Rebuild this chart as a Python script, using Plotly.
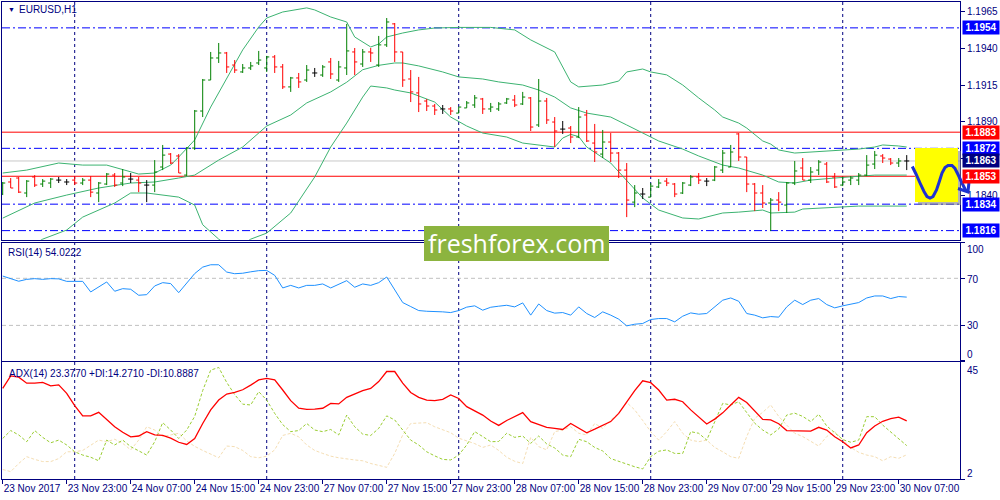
import plotly.graph_objects as go
import pandas as pd

# ---------------- data ----------------
TIMES = pd.date_range("2017-11-23 15:00", "2017-11-30 08:00", freq="h")
TIMES = TIMES[TIMES.dayofweek < 5]
BARS = list(range(len(TIMES)))

OPEN = [1.18409,1.18491,1.18518,1.18416,1.18525,1.18477,1.18484,1.18504,1.18491,1.18504,
        1.18484,1.18504,1.18416,1.18477,1.18538,1.18484,1.18511,1.18504,1.18470,1.18470,
        1.18593,1.18681,1.18668,1.18538,1.18722,1.18974,1.19185,1.19335,1.19369,1.19287,
        1.19240,1.19267,1.19301,1.19267,1.19342,1.19274,1.19138,1.19199,1.19185,1.19233,
        1.19219,1.19308,1.19185,1.19267,1.19376,1.19294,1.19376,1.19287,1.19424,1.19567,
        1.19376,1.19192,1.19097,1.19042,1.19008,1.18988,1.18988,1.18960,1.18995,1.19015,
        1.19056,1.18988,1.18988,1.19029,1.19049,1.19022,1.19063,1.18879,1.19042,1.18899,
        1.18851,1.18858,1.18797,1.18947,1.18756,1.18681,1.18763,1.18688,1.18572,1.18354,
        1.18409,1.18388,1.18457,1.18497,1.18477,1.18416,1.18470,1.18525,1.18497,1.18504,
        1.18572,1.18593,1.18818,1.18661,1.18477,1.18416,1.18348,1.18368,1.18334,1.18484,
        1.18586,1.18504,1.18572,1.18613,1.18525,1.18470,1.18504,1.18504,1.18538,1.18613,
        1.18668,1.18647,1.18620,1.18634]
HIGH = [1.18491,1.18518,1.18525,1.18504,1.18538,1.18511,1.18518,1.18525,1.18511,1.18525,
        1.18518,1.18531,1.18491,1.18552,1.18552,1.18579,1.18552,1.18525,1.18504,1.18640,
        1.18743,1.18688,1.18681,1.18729,1.18981,1.19192,1.19376,1.19437,1.19376,1.19321,
        1.19294,1.19308,1.19383,1.19349,1.19355,1.19294,1.19206,1.19233,1.19287,1.19267,
        1.19287,1.19335,1.19315,1.19567,1.19403,1.19396,1.19403,1.19485,1.19607,1.19573,
        1.19376,1.19253,1.19206,1.19056,1.19022,1.19015,1.19001,1.19001,1.19042,1.19083,
        1.19063,1.19029,1.19035,1.19063,1.19083,1.19104,1.19069,1.19192,1.19063,1.18933,
        1.18906,1.18872,1.19001,1.18981,1.18886,1.18845,1.18824,1.18695,1.18620,1.18470,
        1.18450,1.18484,1.18511,1.18518,1.18484,1.18491,1.18538,1.18552,1.18518,1.18600,
        1.18709,1.18743,1.18824,1.18661,1.18484,1.18470,1.18382,1.18422,1.18491,1.18634,
        1.18654,1.18593,1.18640,1.18627,1.18552,1.18525,1.18531,1.18552,1.18674,1.18702,
        1.18681,1.18654,1.18654,1.18674]
LOW = [1.18402,1.18450,1.18416,1.18388,1.18457,1.18457,1.18450,1.18484,1.18470,1.18470,
       1.18470,1.18388,1.18354,1.18470,1.18457,1.18463,1.18484,1.18422,1.18354,1.18422,
       1.18572,1.18613,1.18552,1.18531,1.18709,1.18933,1.19185,1.19301,1.19233,1.19233,
       1.19233,1.19253,1.19287,1.19240,1.19233,1.19124,1.19104,1.19131,1.19172,1.19206,
       1.19206,1.19192,1.19172,1.19219,1.19219,1.19274,1.19308,1.19274,1.19410,1.19308,
       1.19138,1.19035,1.18967,1.18974,1.18947,1.18954,1.18947,1.18960,1.18995,1.18995,
       1.18954,1.18967,1.18974,1.19022,1.19001,1.19015,1.18838,1.18865,1.18886,1.18729,
       1.18818,1.18756,1.18790,1.18763,1.18627,1.18654,1.18627,1.18518,1.18252,1.18320,
       1.18375,1.18388,1.18450,1.18463,1.18388,1.18409,1.18463,1.18477,1.18463,1.18497,
       1.18552,1.18593,1.18634,1.18422,1.18293,1.18314,1.18157,1.18293,1.18280,1.18470,
       1.18504,1.18484,1.18538,1.18484,1.18450,1.18463,1.18470,1.18470,1.18531,1.18579,
       1.18620,1.18606,1.18593,1.18572]
CLOSE = [1.18484,1.18450,1.18422,1.18497,1.18470,1.18497,1.18511,1.18504,1.18491,1.18484,
         1.18504,1.18422,1.18484,1.18545,1.18470,1.18525,1.18511,1.18484,1.18470,1.18559,
         1.18674,1.18620,1.18552,1.18722,1.18974,1.19185,1.19335,1.19369,1.19274,1.19253,
         1.19267,1.19281,1.19321,1.19342,1.19274,1.19138,1.19199,1.19172,1.19253,1.19233,
         1.19274,1.19226,1.19274,1.19383,1.19308,1.19376,1.19369,1.19424,1.19580,1.19376,
         1.19185,1.19104,1.19022,1.19008,1.18981,1.18988,1.18974,1.19001,1.19029,1.19063,
         1.18988,1.19001,1.19022,1.19056,1.19015,1.19069,1.18865,1.19042,1.18913,1.18838,
         1.18851,1.18797,1.18933,1.18770,1.18695,1.18763,1.18688,1.18572,1.18368,1.18416,
         1.18409,1.18463,1.18484,1.18484,1.18409,1.18484,1.18525,1.18504,1.18497,1.18593,
         1.18688,1.18695,1.18661,1.18477,1.18416,1.18348,1.18368,1.18354,1.18484,1.18566,
         1.18504,1.18559,1.18627,1.18491,1.18457,1.18491,1.18518,1.18538,1.18606,1.18674,
         1.18654,1.18620,1.18634,1.18634]

# Bollinger bands (20, 2)
BB_UP_X = [0,3,7,10,13,16,17,19,21,22,24,26,28,30,32,33,35,38,39,41,43,44,46,47,48,50,52,54,57,61,
           64,66,69,70,71,72,75,77,78,80,81,83,85,87,89,90,92,93,94,95,96,97,99,101,105,107,109,110,112,113]
BB_UP = [1.18552,1.18572,1.18620,1.18606,1.18606,1.18559,1.18545,1.18552,1.18606,1.18661,
         1.18777,1.19001,1.19199,1.19390,1.19546,1.19607,1.19648,1.19676,1.19662,1.19614,
         1.19580,1.19478,1.19410,1.19430,1.19478,1.19505,1.19526,1.19539,1.19543,1.19543,
         1.19526,1.19458,1.19376,1.19274,1.19172,1.19138,1.19151,1.19178,1.19240,1.19260,
         1.19240,1.19220,1.19151,1.19063,1.18981,1.18933,1.18892,1.18858,1.18811,1.18770,
         1.18749,1.18709,1.18688,1.18695,1.18709,1.18715,1.18729,1.18743,1.18736,1.18729]
BB_MID_X = [0,4,8,12,16,19,22,24,27,30,33,36,38,41,43,45,47,49,50,52,55,57,60,62,65,
            67,69,71,73,76,78,80,82,85,87,90,92,95,97,99,101,104,106,109,113]
BB_MID = [1.18245,1.18348,1.18402,1.18450,1.18484,1.18491,1.18518,1.18538,1.18640,1.18729,
          1.18872,1.18947,1.19029,1.19104,1.19170,1.19255,1.19285,1.19301,1.19301,1.19281,
          1.19240,1.19206,1.19192,1.19172,1.19151,1.19117,1.19069,1.18995,1.18960,1.18933,
          1.18879,1.18824,1.18770,1.18715,1.18668,1.18606,1.18586,1.18538,1.18491,1.18484,
          1.18504,1.18518,1.18525,1.18538,1.18538]
BB_LO_X = [0,5,8,10,14,16,18,22,24,25,27,29,31,33,36,39,41,43,45,46,48,49,51,54,56,58,60,63,65,67,
           69,70,71,72,73,76,78,80,82,85,87,90,92,95,96,99,100,103,105,107,113]
BB_LO = [1.17939,1.18102,1.18164,1.18252,1.18348,1.18416,1.18416,1.18388,1.18334,1.18200,
         1.18102,1.18030,1.18102,1.18143,1.18280,1.18525,1.18729,1.18892,1.19069,1.19144,
         1.19131,1.19117,1.19097,1.19035,1.18933,1.18872,1.18824,1.18797,1.18756,1.18743,
         1.18729,1.18790,1.18815,1.18800,1.18729,1.18620,1.18504,1.18382,1.18300,1.18246,
         1.18239,1.18280,1.18286,1.18300,1.18280,1.18286,1.18307,1.18314,1.18320,1.18327,1.18327]

RSI = [71.9,69.7,67.5,69.1,69.7,69.1,69.7,69.5,67.4,67.4,
       67.4,58.4,62.6,66.9,59.0,61.2,60.7,55.6,56.1,63.5,
       66.3,65.5,57.8,65.5,74.0,79.5,81.5,81.5,75.3,73.9,
       74.3,75.5,76.5,76.7,72.5,61.8,64.0,61.8,64.0,64.0,
       65.2,61.8,64.6,68.0,62.4,65.2,64.0,66.3,71.1,59.8,
       49.4,46.0,42.6,42.0,42.0,41.5,40.9,42.6,45.5,46.6,
       42.9,45.4,46.3,47.1,45.7,49.1,38.7,48.2,42.6,40.4,
       40.9,38.7,45.7,40.1,36.7,41.5,38.7,35.3,29.6,31.0,
       31.6,35.0,35.8,35.8,33.0,37.8,40.6,39.5,40.1,45.7,
       51.4,53.3,50.5,40.1,38.7,36.4,37.5,37.0,45.7,51.4,
       47.7,51.4,52.8,47.7,44.9,46.6,47.7,49.4,53.3,55.0,
       55.0,52.8,54.5,54.0222]
RSI_LEVELS = [70, 30]

ADX = [35.3,39.9,39.4,37.2,37.2,37.5,36.2,36.6,33.5,29.0,
       25.2,25.2,26.5,23.7,21.2,19.2,17.5,17.8,19.4,18.2,
       18.0,17.0,15.5,14.7,16.9,22.4,27.4,31.0,33.2,33.8,
       34.8,36.5,38.4,39.0,38.4,34.7,30.8,28.0,27.6,27.7,
       28.0,29.8,29.6,32.0,33.2,34.5,35.3,37.8,41.5,41.5,
       37.2,33.8,32.0,31.0,30.8,31.3,32.9,31.6,28.6,27.2,
       25.5,23.3,21.7,23.5,25.0,26.4,23.1,22.0,21.0,20.6,
       20.2,22.4,20.6,19.0,20.3,21.8,23.1,26.1,30.4,34.5,
       38.1,37.4,34.7,31.0,31.3,30.4,27.4,24.9,22.2,24.0,
       26.3,29.2,32.0,30.1,26.8,23.9,23.7,22.3,19.8,19.8,
       19.8,19.6,21.0,20.0,17.5,15.7,13.4,14.5,19.0,21.5,
       23.2,24.2,24.7,23.377]
PDI = [16.9,19.8,18.2,15.7,19.8,17.3,15.3,16.3,14.5,12.0,
       10.8,10.0,8.7,16.3,14.5,16.3,13.9,12.3,10.8,15.7,
       22.7,20.0,16.9,20.0,25.0,34.5,42.0,43.0,37.5,33.0,
       29.5,29.2,34.1,31.0,26.1,22.0,19.4,19.8,22.4,20.0,
       19.4,20.2,18.2,25.5,21.2,18.5,18.0,20.6,25.2,23.7,
       20.0,16.3,14.5,12.0,10.5,9.2,9.0,10.8,14.5,19.4,
       17.6,15.7,15.8,18.8,17.3,17.8,15.1,17.8,14.9,13.4,
       10.8,10.2,16.6,15.7,13.6,12.3,9.5,8.6,7.5,6.5,
       5.7,10.2,12.2,12.7,11.4,11.4,19.4,18.8,16.3,23.0,
       29.8,29.2,30.4,26.4,22.5,20.0,18.2,20.4,25.5,26.2,
       25.0,23.1,25.8,21.5,19.0,16.5,15.5,16.3,24.9,24.9,
       21.8,19.4,16.8,14.271]
MDI = [5.5,4.7,7.7,10.2,9.2,8.4,8.4,9.5,12.0,12.0,
       12.5,14.5,16.3,15.7,16.6,15.1,12.7,16.3,21.2,20.0,
       17.6,18.2,18.8,16.0,14.0,12.5,11.0,9.8,14.1,13.9,
       12.5,10.2,9.8,10.4,12.7,18.0,18.8,17.5,14.5,12.5,
       11.4,10.4,9.8,9.3,9.0,8.7,7.7,7.0,6.3,11.4,
       18.2,22.4,22.6,22.7,21.2,20.2,19.0,17.0,16.0,15.0,
       13.6,14.5,12.5,10.0,8.5,7.7,17.3,13.9,12.7,19.4,
       20.0,21.2,18.8,18.2,22.4,20.6,23.7,26.1,30.1,27.4,
       23.5,19.4,16.3,19.4,23.1,18.8,16.3,15.7,16.3,13.6,
       12.0,10.2,9.6,17.6,24.3,26.5,29.2,25.0,21.8,18.8,
       17.6,15.7,14.1,17.6,19.4,16.5,13.6,11.8,10.8,10.2,
       8.7,10.2,9.6,10.8887]

LEVELS = [1.1954, 1.1883, 1.1872, 1.1834, 1.1816]
LEVEL_KIND = ["blue", "red", "blue", "blue", "blue"]
RED_LEVEL_2 = 1.1853
PRICE_TICKS = [1.1840, 1.1865, 1.1890, 1.1915, 1.1940, 1.1965]

# ---------------- styling helpers ----------------
FONT = "Liberation Sans, Arial, sans-serif"
NAVY = "#000080"
BLUE = "#0000FF"
RED = "#FF0000"
GREEN_BAR = "#008000"
BAND = "#3CB371"


def px(x):
    return (x - 2) / 958.0


def py(y):
    return 1 - (y - 2) / 477.0


fig = go.Figure()


def bar_segments(idx):
    xs, ys = [], []
    for i in idx:
        xs += [i, i, None, i - 0.32, i, None, i, i + 0.32, None]
        ys += [LOW[i], HIGH[i], None, OPEN[i], OPEN[i], None, CLOSE[i], CLOSE[i], None]
    return xs, ys


groups = [
    ([i for i in BARS if CLOSE[i] > OPEN[i]], GREEN_BAR),
    ([i for i in BARS if CLOSE[i] < OPEN[i]], RED),
    ([i for i in BARS if CLOSE[i] == OPEN[i]], "#000000"),
]

for bx, by in [(BB_UP_X, BB_UP), (BB_MID_X, BB_MID), (BB_LO_X, BB_LO)]:
    fig.add_trace(go.Scatter(x=bx, y=by, mode="lines", line=dict(color=BAND, width=1),
                             xaxis="x", yaxis="y", hoverinfo="skip", showlegend=False))

for idx, col in groups:
    xs, ys = bar_segments(idx)
    fig.add_trace(go.Scatter(x=xs, y=ys, mode="lines", line=dict(color=col, width=1),
                             xaxis="x", yaxis="y", hoverinfo="skip", showlegend=False))

fig.add_trace(go.Scatter(x=BARS, y=RSI, mode="lines", line=dict(color="#1E90FF", width=1),
                         xaxis="x2", yaxis="y2", hoverinfo="skip", showlegend=False))

fig.add_trace(go.Scatter(x=BARS, y=MDI, mode="lines", line=dict(color="#F5DEB3", width=1, dash="3px,2px"),
                         xaxis="x3", yaxis="y3", hoverinfo="skip", showlegend=False))
fig.add_trace(go.Scatter(x=BARS, y=PDI, mode="lines", line=dict(color="#9ACD32", width=1, dash="3px,2px"),
                         xaxis="x3", yaxis="y3", hoverinfo="skip", showlegend=False))
fig.add_trace(go.Scatter(x=BARS, y=ADX, mode="lines", line=dict(color=RED, width=1.3),
                         xaxis="x3", yaxis="y3", hoverinfo="skip", showlegend=False))

# ---------------- shapes ----------------
shapes = []
SEP_BARS = [i for i in BARS if TIMES[i].hour == 0]
for b in SEP_BARS:
    shapes.append(dict(type="line", xref="x", yref="paper", x0=b, x1=b, y0=0, y1=1,
                       line=dict(color=NAVY, width=1, dash="3px,3px"), layer="below"))

BID = CLOSE[-1]
for lvl, kind in zip(LEVELS + [RED_LEVEL_2, BID], LEVEL_KIND + ["red", "bid"]):
    if kind == "blue":
        ln = dict(color=BLUE, width=1, dash="8px,3px,2px,3px")
    elif kind == "red":
        ln = dict(color=RED, width=1)
    else:
        ln = dict(color="#C8C8C8", width=1)
    shapes.append(dict(type="line", xref="x domain", yref="y", x0=0, x1=1, y0=lvl, y1=lvl,
                       line=ln, layer="below"))

for lv in RSI_LEVELS:
    shapes.append(dict(type="line", xref="x2 domain", yref="y2", x0=0, x1=1, y0=lv, y1=lv,
                       line=dict(color="#C0C0C0", width=1, dash="4px,3px"), layer="below"))

# yellow note with shadow
shapes.append(dict(type="rect", xref="paper", yref="paper", x0=px(918), x1=px(961), y0=py(205), y1=py(151),
                   fillcolor="rgba(120,120,120,0.55)", line=dict(width=0), layer="above"))
shapes.append(dict(type="rect", xref="paper", yref="paper", x0=px(915), x1=px(958), y0=py(202), y1=py(148),
                   fillcolor="#FFFF00", line=dict(width=0), layer="above"))

curve = [(912.3, 166.5), (916, 174), (920, 183), (924, 191.5), (927, 196.5), (930, 198), (933, 196.5),
         (936.5, 190), (939.5, 181), (942, 173), (945, 167.5), (948, 165.5), (952, 165.5), (955, 168.5),
         (958.5, 175.5), (962, 183), (965, 189), (968, 192)]
path = "M " + " L ".join(f"{px(a):.5f},{py(b):.5f}" for a, b in curve)
shapes.append(dict(type="path", xref="paper", yref="paper", path=path,
                   line=dict(color="#1E32D2", width=3), layer="above"))
arrow = [(958, 188.5), (968, 192), (969.5, 177)]
path2 = "M " + " L ".join(f"{px(a):.5f},{py(b):.5f}" for a, b in arrow)
shapes.append(dict(type="path", xref="paper", yref="paper", path=path2,
                   line=dict(color="#1E32D2", width=3), layer="above"))

# watermark box
shapes.append(dict(type="rect", xref="paper", yref="paper", x0=px(424), x1=px(609), y0=py(261), y1=py(226),
                   fillcolor="#8CB43F", line=dict(width=0), layer="above"))

# ---------------- annotations ----------------
ann = []
box_col = {"blue": BLUE, "red": RED, "bid": NAVY}
for lvl, kind in zip(LEVELS + [RED_LEVEL_2, BID], LEVEL_KIND + ["red", "bid"]):
    ann.append(dict(xref="paper", yref="y", x=px(962), y=lvl, xanchor="left", yanchor="middle",
                    text=f"<b>{lvl:.4f}</b>", showarrow=False, bgcolor=box_col[kind],
                    font=dict(family=FONT, size=10, color="white"), width=34, height=11,
                    borderpad=1, align="center"))

ann.append(dict(xref="paper", yref="paper", x=px(6), y=py(10), xanchor="left", yanchor="middle",
                text="▼", showarrow=False, font=dict(family=FONT, size=7, color=NAVY)))
ann.append(dict(xref="paper", yref="paper", x=px(17), y=py(10), xanchor="left", yanchor="middle",
                text="EURUSD,H1", showarrow=False, font=dict(family=FONT, size=10, color=NAVY)))
ann.append(dict(xref="paper", yref="paper", x=px(6), y=py(252), xanchor="left", yanchor="middle",
                text=f"RSI(14) {RSI[-1]:.4f}", showarrow=False, font=dict(family=FONT, size=10, color=NAVY)))
ann.append(dict(xref="paper", yref="paper", x=px(7), y=py(373), xanchor="left", yanchor="middle",
                text=f"ADX(14) {ADX[-1]:.4f} +DI:{PDI[-1]:.4f} -DI:{MDI[-1]:.4f}", showarrow=False,
                font=dict(family=FONT, size=10, color=NAVY)))

for txt, ypix in [("100", 249), ("70", 279), ("30", 325), ("0", 354), ("45", 370), ("2", 473)]:
    ann.append(dict(xref="paper", yref="paper", x=px(965), y=py(ypix), xanchor="left", yanchor="middle",
                    text=txt, showarrow=False, font=dict(family=FONT, size=10, color=NAVY)))

ann.append(dict(xref="paper", yref="paper", x=px(516.5), y=py(243), xanchor="center", yanchor="middle",
                text="freshforex.com", showarrow=False,
                font=dict(family="Open Sans, Noto Sans, sans-serif", size=25, color="white")))

# ---------------- axes ----------------
TICK_BARS = BARS[::8]
TICK_TEXT = [TIMES[0].strftime("%d %b %Y")] + [TIMES[i].strftime("%d %b %H:%M") for i in TICK_BARS[1:]]
XR = [-0.0875, 119.66]

common_x = dict(range=XR, showgrid=False, zeroline=False, showline=True, mirror=True,
                linecolor=NAVY, linewidth=1)
common_y = dict(showgrid=False, zeroline=False, showline=True, mirror=True, linecolor=NAVY,
                linewidth=1, side="right", ticks="outside", ticklen=4, tickcolor=NAVY,
                tickfont=dict(family=FONT, size=10, color=NAVY))

fig.update_layout(
    width=1000, height=500,
    margin=dict(l=2, r=40, t=2, b=21),
    paper_bgcolor="white", plot_bgcolor="white",
    showlegend=False,
    xaxis=dict(**common_x, domain=[0, 1], anchor="y", matches="x3", showticklabels=False, ticks=""),
    xaxis2=dict(**common_x, domain=[0, 1], anchor="y2", matches="x3", showticklabels=False, ticks=""),
    xaxis3=dict(**common_x, domain=[0, 1], anchor="y3", tickvals=TICK_BARS, ticktext=TICK_TEXT,
                ticks="outside", ticklen=4, tickcolor=NAVY, ticklabelposition="outside right",
                tickangle=0, automargin=False,
                tickfont=dict(family=FONT, size=10, color=NAVY)),
    yaxis=dict(**common_y, domain=[0.5010, 1.0], range=[1.18096, 1.19716], anchor="x",
               tickvals=PRICE_TICKS, tickformat=".4f", automargin=False),
    yaxis2=dict(**common_y, domain=[0.2480, 0.4948], range=[0, 100], anchor="x2",
                tickvals=[0, 30, 70, 100], showticklabels=False),
    yaxis3=dict(**common_y, domain=[0, 0.2453], range=[2, 45], anchor="x3",
                tickvals=[2, 45], showticklabels=False),
    shapes=shapes,
    annotations=ann,
)

fig.write_html("out.html", config={"displayModeBar": False, "staticPlot": True},
               post_script="document.body.style.margin='0px';document.body.style.overflow='hidden';")
